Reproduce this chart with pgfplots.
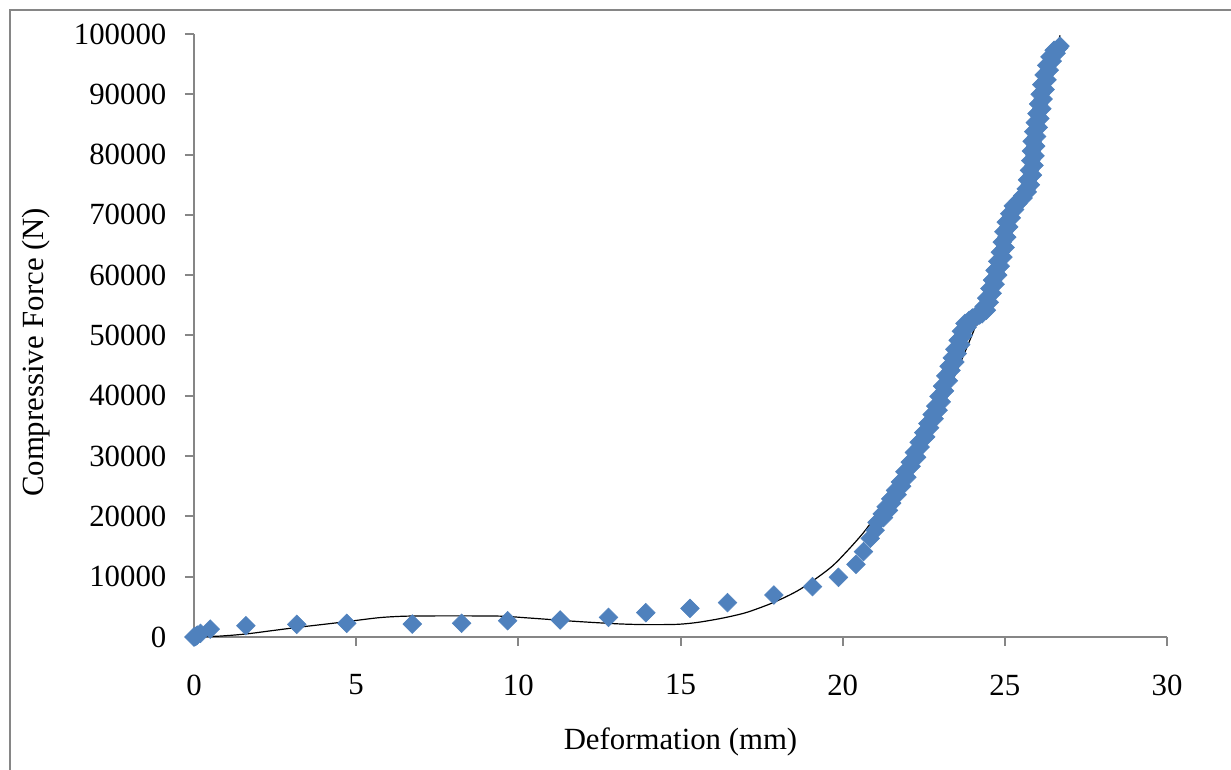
\documentclass[border=0pt]{standalone}
\usepackage{fontspec}
\setmainfont{Liberation Serif}
\usepackage{pgfplots}
\pgfplotsset{compat=1.18}
\definecolor{mk}{HTML}{4F81BD}
\definecolor{axgray}{HTML}{868686}
\begin{document}
\fontsize{15.4}{18}\selectfont
\begin{tikzpicture}
\useasboundingbox (0,0) rectangle (615.5pt,385pt);
\draw[axgray, line width=1pt] (4.75pt,0) -- (4.75pt,380pt) -- (615.5pt,380pt);
\begin{axis}[
  at={(97pt,66.5pt)}, anchor=south west,
  scale only axis, width=486.5pt, height=301.5pt,
  xmin=0, xmax=30, ymin=0, ymax=100000,
  xtick={0,5,...,30}, ytick={0,10000,...,100000},
  axis lines=left,
  axis line style={draw=axgray, line width=1pt, -},
  tick align=outside, major tick length=4.5pt,
  tick style={draw=axgray, line width=1pt},
  scaled y ticks=false, scaled x ticks=false,
  /pgf/number format/fixed,
  /pgf/number format/precision=0,
  /pgf/number format/1000 sep={},
  /pgf/number format/assume math mode=true,
  yticklabel style={xshift=-4pt},
  xticklabel style={yshift=-9pt},
  clip=false,
  xlabel={Deformation (mm)}, ylabel={Compressive Force (N)},
  xlabel style={at={(axis description cs:0.5,0)}, anchor=center, yshift=-52.5pt},
  ylabel style={at={(axis description cs:-0.162,0.472)}, anchor=center},
]
\addplot[only marks, mark=square*, mark size=3.3pt, mark options={rotate=45, fill=mk, draw=mk, line width=0.3pt}] coordinates {
(0,0) (0.05,100) (0.1,300) (0.2,600) (0.5,1300) (1.6,1870) (3.17,2100) (4.71,2270)
(6.73,2150) (8.25,2270) (9.67,2700) (11.29,2820) (12.78,3260) (13.93,4030)
(15.29,4750) (16.45,5700) (17.88,6960) (19.07,8350) (19.87,9900) (20.41,12050)
(20.64,14150) (20.85,16360) (21.0,17700)
(21.06,19000) (21.26,19800) (21.22,20400) (21.41,21000) (21.34,21600) (21.51,22200)
(21.48,22900) (21.68,23600) (21.63,24300) (21.82,25000) (21.78,25700) (21.98,26500)
(21.92,27400) (22.11,28300) (22.08,29000) (22.28,29800) (22.21,30600) (22.39,31500)
(22.36,32300) (22.56,33200) (22.5,33900) (22.68,34700) (22.63,35400) (22.82,36200)
(22.76,36900) (22.94,37600) (22.87,38300) (23.04,39000) (22.97,39900) (23.14,40800)
(23.08,41600) (23.26,42500) (23.18,43300) (23.34,44200) (23.28,44900) (23.46,45600)
(23.38,46300) (23.53,47000) (23.46,47700) (23.64,48500) (23.56,49200) (23.72,50000)
(23.66,50700) (23.84,51400) (23.77,52000) (23.9,52500) (24.0,52900) (24.08,53100)
(24.15,53200) (24.22,53400) (24.3,53600) (24.43,54200) (24.36,54800) (24.52,55500)
(24.44,56200) (24.61,57000) (24.54,57800) (24.7,58500) (24.62,59200) (24.78,60000)
(24.7,60800) (24.86,61500) (24.78,62300) (24.94,63000) (24.86,63800) (25.01,64600)
(24.92,65500) (25.06,66300) (24.97,67200) (25.12,68000) (25.04,68800) (25.2,69500)
(25.15,70200) (25.3,70900) (25.26,71500) (25.4,71900) (25.42,72300) (25.56,72800)
(25.55,73200) (25.69,73800) (25.66,74300) (25.79,75000) (25.7,75800) (25.85,76600)
(25.76,77400) (25.9,78200) (25.8,79000) (25.93,79800) (25.82,80600) (25.95,81400)
(25.84,82200) (25.98,83000) (25.89,83800) (26.03,84500) (25.94,85300) (26.08,86000)
(25.99,86800) (26.14,87600) (26.04,88400) (26.18,89200) (26.09,90000) (26.24,90800)
(26.14,91600) (26.3,92400) (26.21,93200) (26.37,94000) (26.29,94800) (26.46,95500)
(26.39,96200) (26.58,96800) (26.52,97300) (26.66,97700) (26.7,98000)
};
\addplot[black, line width=0.6pt, smooth, tension=0.5] coordinates {
(0,0) (0.8,150) (1.6,500) (2.4,1050) (3.2,1600) (4,2100) (4.7,2540) (5.7,3200)
(6.5,3450) (7.5,3500) (8.5,3500) (9.5,3450) (10.2,3200) (10.9,2930) (11.6,2650)
(12.4,2380) (13.2,2150) (14.0,2050) (14.9,2100) (15.5,2400) (16.1,2930) (16.6,3480)
(17.1,4180) (17.9,5800) (18.7,7950) (19.6,11390) (20.12,14150) (20.64,17300)
(21.0,19940) (21.4,23200) (21.77,26300) (22.38,31800) (23.0,37900) (23.62,45360)
(24.13,52000) (24.49,57400) (24.85,63030) (25.21,69100) (25.57,75750) (25.93,82800)
(26.29,90120) (26.5,94900) (26.7,99780)
};
\end{axis}
\end{tikzpicture}
\end{document}
